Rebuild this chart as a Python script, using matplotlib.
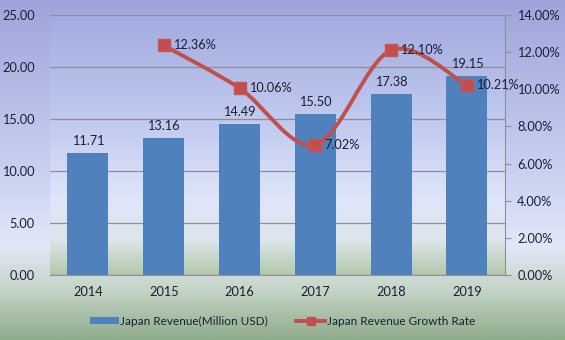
import numpy as np
import matplotlib.pyplot as plt
from matplotlib.path import Path
from matplotlib.patches import PathPatch, Patch
from matplotlib.lines import Line2D
from matplotlib.colors import LinearSegmentedColormap
from matplotlib.ticker import FuncFormatter, MultipleLocator

plt.rcParams['font.family'] = ['Lato', 'DejaVu Sans']

# === DATOS ===
years = ['2014', '2015', '2016', '2017', '2018', '2019']
revenue = [11.71, 13.16, 14.49, 15.50, 17.38, 19.15]
growth_years = ['2015', '2016', '2017', '2018', '2019']
growth = [12.36, 10.06, 7.02, 12.10, 10.21]

BAR_COLOR = '#4f81bd'
LINE_COLOR = '#c0504d'
TEXT_COLOR = '#1c1f33'
GRID_COLOR = '#8f8f99'
FS = 9.2

fig = plt.figure(figsize=(5.65, 3.4), dpi=100)

# fondo degradado de la figura
bg = fig.add_axes([0, 0, 1, 1], zorder=-10)
cmap_fig = LinearSegmentedColormap.from_list(
    'fig_bg', [(0.0, '#9ea4da'), (0.55, '#cdd5f3'), (0.72, '#e2e8fa'),
               (0.85, '#c6d5c8'), (1.0, '#8fac8b')])
bg.imshow(np.linspace(0, 1, 256).reshape(-1, 1), aspect='auto', cmap=cmap_fig,
          extent=[0, 1, 0, 1], origin='upper')
bg.axis('off')

ax = fig.add_axes([0.0885, 0.191, 0.805, 0.765])
ax2 = ax.twinx()

# degradado del area de trazado
cmap_plot = LinearSegmentedColormap.from_list(
    'plot_bg', [(0.0, '#a2abdf'), (0.45, '#c4cdf0'), (0.72, '#dfe6fa'),
                (0.87, '#dce5ea'), (1.0, '#b2c8aa')])
ax.imshow(np.linspace(0, 1, 256).reshape(-1, 1), aspect='auto', cmap=cmap_plot,
          extent=[-0.5, 5.5, 0, 25], origin='upper', zorder=0)

x = np.arange(len(years))
ax.bar(x, revenue, width=0.54, color=BAR_COLOR, zorder=3)
for xi, v in zip(x, revenue):
    ax.text(xi, v + 0.6, f'{v:.2f}', ha='center', va='bottom',
            fontsize=FS, color=TEXT_COLOR, zorder=6)

ax.set_xlim(-0.5, 5.5)
ax.set_ylim(0, 25)
ax.yaxis.set_major_locator(MultipleLocator(5))
ax.yaxis.set_major_formatter(FuncFormatter(lambda v, p: f'{v:.2f}'))
ax.set_xticks(x)
ax.set_xticklabels(years)
ax.grid(axis='y', color=GRID_COLOR, linewidth=0.9, zorder=1)
ax.set_axisbelow(True)
ax.tick_params(axis='y', length=0, labelsize=FS, colors=TEXT_COLOR, pad=11)
ax.tick_params(axis='x', length=0, labelsize=FS, colors=TEXT_COLOR, pad=8)
for s in ['top', 'left', 'right']:
    ax.spines[s].set_visible(False)
ax.spines['bottom'].set_color(GRID_COLOR)

# linea suavizada (Catmull-Rom -> Bezier)
gx = np.array([years.index(y) for y in growth_years], dtype=float)
gy = np.array(growth, dtype=float)
pts = np.column_stack([gx, gy])
ext = np.vstack([pts[0], pts, pts[-1]])
verts = [tuple(pts[0])]
codes = [Path.MOVETO]
for i in range(1, len(ext) - 2):
    p0, p1, p2, p3 = ext[i - 1], ext[i], ext[i + 1], ext[i + 2]
    c1 = p1 + (p2 - p0) / 6.0
    c2 = p2 - (p3 - p1) / 6.0
    verts += [tuple(c1), tuple(c2), tuple(p2)]
    codes += [Path.CURVE4] * 3
ax2.add_patch(PathPatch(Path(verts, codes), facecolor='none',
                        edgecolor=LINE_COLOR, linewidth=2.8, zorder=4))
ax2.plot(gx, gy, linestyle='none', marker='s', markersize=8,
         color=LINE_COLOR, markeredgecolor='#d0514d', zorder=5)
for xi, v in zip(gx, gy):
    ax2.text(xi + 0.12, v, f'{v:.2f}%', ha='left', va='center',
             fontsize=FS, color=TEXT_COLOR, zorder=6)

ax2.set_ylim(0, 14)
ax2.yaxis.set_major_locator(MultipleLocator(2))
ax2.yaxis.set_major_formatter(FuncFormatter(lambda v, p: f'{v:.2f}%'))
ax2.tick_params(axis='y', length=4, color=GRID_COLOR, labelsize=FS,
                labelcolor=TEXT_COLOR, pad=5)
for s in ['top', 'left', 'bottom']:
    ax2.spines[s].set_visible(False)
ax2.spines['right'].set_color(GRID_COLOR)

# leyenda
handles = [Patch(facecolor=BAR_COLOR, label='Japan Revenue(Million USD)'),
           Line2D([0], [0], color=LINE_COLOR, linewidth=2.8, marker='s',
                  markersize=6, label='Japan Revenue Growth Rate')]
fig.legend(handles=handles, loc='center', bbox_to_anchor=(0.5, 0.055),
           ncol=2, frameon=False, fontsize=8.5, handlelength=2.4,
           handleheight=0.5, handletextpad=0.15, columnspacing=2.4,
           labelcolor=TEXT_COLOR)

fig.savefig('out.png', dpi=100)
